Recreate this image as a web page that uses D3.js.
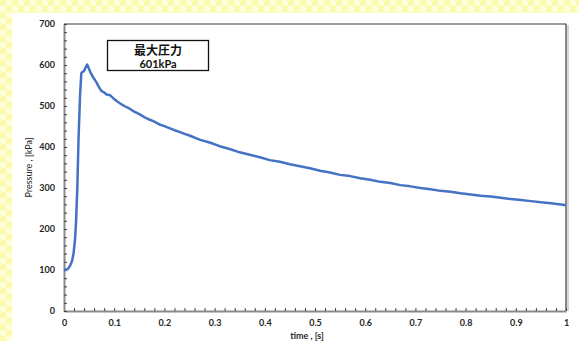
<!DOCTYPE html>
<html>
<head>
<meta charset="utf-8">
<script src="https://cdn.jsdelivr.net/npm/d3@7"></script>
<style>
  html, body { margin: 0; padding: 0; background: #fff; }
  svg { display: block; }
  .tick text { font-family: Lato, "Liberation Sans", sans-serif; font-weight: bold; font-size: 9px; fill: #262626; }
</style>
</head>
<body>
<svg id="chart"></svg>
<script>
// time [s]
const timeVals = [0, 0.004, 0.008, 0.012, 0.016, 0.019, 0.022, 0.024, 0.0265, 0.029, 0.032, 0.0345,
  0.037, 0.040, 0.043, 0.046, 0.049, 0.052, 0.058, 0.065, 0.070, 0.075, 0.080, 0.085, 0.092, 0.098,
  0.105, 0.112, 0.12, 0.13, 0.14, 0.15, 0.16, 0.17, 0.18, 0.19, 0.20, 0.21, 0.22, 0.23, 0.24, 0.25,
  0.27, 0.29, 0.31, 0.33, 0.35, 0.37, 0.39, 0.41, 0.43, 0.45, 0.47, 0.49, 0.51, 0.53, 0.55, 0.57,
  0.59, 0.61, 0.63, 0.65, 0.67, 0.69, 0.71, 0.73, 0.75, 0.77, 0.79, 0.81, 0.83, 0.85, 0.87, 0.89,
  0.91, 0.93, 0.95, 0.97, 0.99, 1.0];
// pressure [kPa]
const pressureVals = [102, 100, 103, 110, 122, 140, 175, 218, 299, 422, 527, 580,
  583, 585, 594, 601, 593, 584, 570, 557, 545, 536, 533, 528, 526, 519,
  512, 506, 500, 494, 486, 480, 473, 467, 462, 455, 451, 446, 441, 437, 432, 428,
  418, 411, 402, 395, 387, 381, 375, 368, 364, 358, 353, 348, 342, 338, 332, 329,
  324, 320, 315, 312, 307, 304, 300, 297, 293, 291, 287, 284, 281, 279, 276, 273,
  271, 268, 265, 263, 260, 258];

const xTicks = [0, 0.1, 0.2, 0.3, 0.4, 0.5, 0.6, 0.7, 0.8, 0.9, 1];
const yTicks = [0, 100, 200, 300, 400, 500, 600, 700];

const title1 = "最大圧力";
const title2 = "601kPa";

const w = 579, h = 341;
const padL = 64, padR = 566, padT = 24, padB = 311;

const svg = d3.select("#chart").attr("width", w).attr("height", h);

// checkered yellow background on the top and left edge
const defs = svg.append("defs");
const pat = defs.append("pattern").attr("id", "chk")
  .attr("width", 12).attr("height", 12).attr("patternUnits", "userSpaceOnUse");
pat.append("rect").attr("width", 12).attr("height", 12).attr("fill", "#fefed8");
pat.append("rect").attr("width", 6).attr("height", 6).attr("fill", "#fbfbb0");
pat.append("rect").attr("x", 6).attr("y", 6).attr("width", 6).attr("height", 6).attr("fill", "#fbfbb0");
svg.append("rect").attr("width", w).attr("height", h).attr("fill", "url(#chk)");
svg.append("rect").attr("x", 12).attr("y", 13).attr("width", w - 12).attr("height", h - 13).attr("fill", "#fff");

const xScale = d3.scaleLinear().domain([0, 1]).range([padL, padR]);
const yScale = d3.scaleLinear().domain([0, 700]).range([padB, padT]);

// plot frame (top + right)
svg.append("line").attr("x1", padR + 2).attr("x2", padR + 2).attr("y1", padT + 1).attr("y2", padB)
  .attr("stroke", "#c8c8c8").attr("stroke-width", 1.5);
svg.append("path").attr("d", `M${padL},${padT}H${padR}V${padB}`)
  .attr("fill", "none").attr("stroke", "#3a3a3a").attr("stroke-width", 1.2);

const xAxis = d3.axisBottom(xScale).tickValues(d3.range(0, 51).map(i => i * 0.02))
  .tickSizeInner(-3).tickSizeOuter(0)
  .tickFormat(d => xTicks.some(t => Math.abs(t - d) < 1e-9) ? d3.format("")(+d.toFixed(1)) : "");
const yAxis = d3.axisLeft(yScale).tickValues(d3.range(0, 36).map(i => i * 20))
  .tickSizeInner(-3).tickSizeOuter(0)
  .tickFormat(d => yTicks.includes(d) ? d : "");

const gx = svg.append("g").attr("transform", `translate(0,${padB})`).call(xAxis);
const gy = svg.append("g").attr("transform", `translate(${padL},0)`).call(yAxis);
[gx, gy].forEach(g => {
  g.select(".domain").attr("stroke", "#8a8a8a").attr("stroke-width", 2);
  g.selectAll(".tick line").attr("stroke", "#404040").attr("stroke-width", 1);
});
gx.selectAll(".tick text").attr("dy", "1.3em");
gy.selectAll(".tick text").attr("x", -9);

// pressure curve
const line = d3.line().x((d, i) => xScale(timeVals[i])).y(d => yScale(d));
svg.append("path").datum(pressureVals).attr("d", line)
  .attr("fill", "none").attr("stroke", "#4472c4").attr("stroke-width", 2.5)
  .attr("stroke-linejoin", "round");

// axis titles
svg.append("text")
  .attr("transform", `translate(32, ${(padT + padB) / 2}) rotate(-90)`)
  .attr("text-anchor", "middle")
  .style("font-family", "Lato, sans-serif").style("font-size", "9px").style("fill", "#262626")
  .text("Pressure , [kPa]");
svg.append("text").attr("x", (padL + padR) / 2 - 8).attr("y", 338.5)
  .attr("text-anchor", "middle")
  .style("font-family", "Lato, sans-serif").style("font-weight", "bold").style("font-size", "9px").style("fill", "#262626")
  .text("time , [s]");

// annotation box
svg.append("rect").attr("x", 107.5).attr("y", 40.5).attr("width", 101).attr("height", 30)
  .attr("fill", "#fff").attr("stroke", "#111").attr("stroke-width", 1.3);
svg.append("text").attr("x", 158).attr("y", 55).attr("text-anchor", "middle")
  .style("font-family", "'Noto Sans CJK JP', sans-serif").style("font-weight", "bold").style("font-size", "12px").style("fill", "#111")
  .text(title1);
svg.append("text").attr("x", 158).attr("y", 67.5).attr("text-anchor", "middle")
  .style("font-family", "Lato, sans-serif").style("font-weight", "bold").style("font-size", "11px").style("fill", "#111")
  .text(title2);
</script>
</body>
</html>
